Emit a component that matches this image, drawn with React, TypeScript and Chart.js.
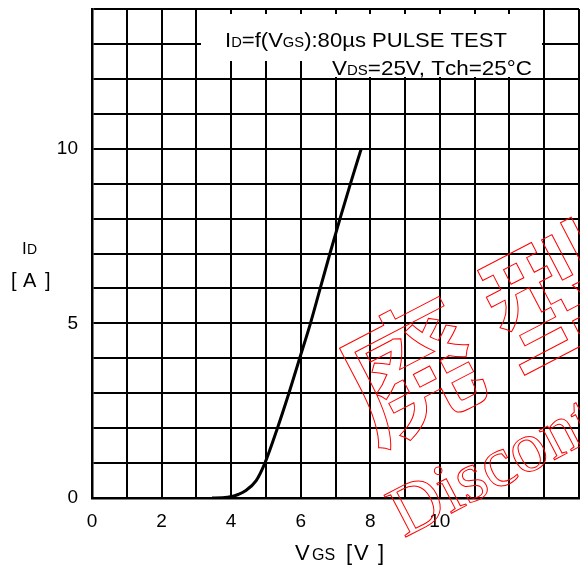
import { useEffect, useRef } from 'react';
import { Chart, registerables } from 'chart.js';

Chart.register(...registerables);

// V_GS [V]
const vgs = [3.45, 3.75, 4.05, 4.2, 4.4, 4.72, 4.97, 5.33, 5.66, 5.97, 6.28, 6.56, 6.84, 7.13, 7.43, 7.74];
// I_D [A]
const idA = [0, 0.005, 0.05, 0.1, 0.2, 0.5, 1.0, 2.0, 3.0, 4.0, 5.0, 6.0, 7.0, 8.0, 9.0, 10.0];

const xTickLabels = ['0', '2', '4', '6', '8', '10'];
const yTickLabels = ['0', '5', '10'];

const annotationLine1 = [
  { t: 'I', s: 21 },
  { t: 'D', s: 14 },
  { t: '=f(V', s: 21 },
  { t: 'GS', s: 14 },
  { t: '):80µs PULSE TEST', s: 21 },
];
const annotationLine2 = [
  { t: 'V', s: 21 },
  { t: 'DS', s: 14 },
  { t: '=25V, T', s: 21 },
  { t: 'ch', s: 21 },
  { t: '=25°C', s: 21 },
];

const watermarkChars = ['廃', '型'];
const watermarkWord = 'Discontinued';

const FONT = '"Liberation Sans", Arial, sans-serif';

type Part = { t: string; s: number };

function drawSeq(ctx: CanvasRenderingContext2D, parts: Part[], x: number, y: number, targetWidth?: number) {
  let total = 0;
  const widths = parts.map((p) => {
    ctx.font = `${p.s}px ${FONT}`;
    const w = ctx.measureText(p.t).width;
    total += w;
    return w;
  });
  const sx = targetWidth ? targetWidth / total : 1;
  ctx.save();
  ctx.translate(x, y);
  ctx.scale(sx, 1);
  let cx = 0;
  parts.forEach((p, i) => {
    ctx.font = `${p.s}px ${FONT}`;
    ctx.fillText(p.t, cx, 0);
    cx += widths[i];
  });
  ctx.restore();
}

const overlayPlugin = {
  id: 'overlay',
  afterDraw(chart: any) {
    const ctx: CanvasRenderingContext2D = chart.ctx;
    ctx.save();
    // annotation knock-out
    ctx.fillStyle = '#fff';
    ctx.fillRect(201, 14, 341, 47);
    ctx.fillRect(318, 59, 224, 18);
    ctx.fillStyle = '#000';
    ctx.textBaseline = 'alphabetic';
    ctx.textAlign = 'left';
    drawSeq(ctx, annotationLine1, 225, 47, 282);
    drawSeq(ctx, annotationLine2, 332, 75, 200);

    // axis titles
    ctx.font = `17px ${FONT}`;
    ctx.fillText('I', 22, 254);
    ctx.font = `14px ${FONT}`;
    ctx.fillText('D', 27, 254);
    ctx.font = `20px ${FONT}`;
    ctx.fillText('[', 11, 287);
    ctx.fillText('A', 23, 287);
    ctx.fillText(']', 45, 287);

    ctx.font = `22px ${FONT}`;
    ctx.fillText('V', 295, 560);
    ctx.font = `16px ${FONT}`;
    ctx.fillText('GS', 312, 560);
    ctx.font = `22px ${FONT}`;
    ctx.fillText('[', 346, 560);
    ctx.fillText('V', 354, 560);
    ctx.fillText(']', 378, 560);

    // watermark
    const ang = (-27.5 * Math.PI) / 180;
    ctx.strokeStyle = '#ff0000';
    ctx.lineWidth = 1;
    ctx.textAlign = 'center';
    ctx.textBaseline = 'middle';
    ctx.font = `500 134px "Noto Sans CJK JP"`;
    const c0x = 410;
    const c0y = 370;
    watermarkChars.forEach((ch, i) => {
      const d = 160 * i;
      ctx.save();
      ctx.translate(c0x + d * Math.cos(ang), c0y + d * Math.sin(ang));
      ctx.rotate(ang);
      ctx.strokeText(ch, 0, 0);
      ctx.restore();
    });
    ctx.save();
    ctx.translate(404, 538);
    ctx.rotate(ang);
    ctx.textAlign = 'left';
    ctx.textBaseline = 'alphabetic';
    ctx.font = `72px "Liberation Serif", serif`;
    ctx.strokeText(watermarkWord, 0, 0);
    ctx.restore();
    ctx.restore();
  },
};

export default function App() {
  const ref = useRef<HTMLCanvasElement>(null);
  useEffect(() => {
    if (!ref.current) return;
    const chart = new Chart(ref.current, {
      type: 'line',
      data: {
        datasets: [
          {
            data: vgs.map((x, i) => ({ x, y: idA[i] })),
            borderColor: '#000',
            borderWidth: 3,
            pointRadius: 0,
            cubicInterpolationMode: 'monotone',
            fill: false,
          },
        ],
      },
      options: {
        responsive: false,
        animation: false,
        devicePixelRatio: 1,
        layout: { padding: { top: 9, right: 1, left: 0, bottom: 0 } },
        plugins: { legend: { display: false }, tooltip: { enabled: false } },
        scales: {
          x: {
            type: 'linear',
            min: 0,
            max: 14,
            afterFit: (s: any) => {
              s.height = 72;
              s.paddingLeft = 0;
              s.paddingRight = 0;
            },
            ticks: {
              stepSize: 1,
              autoSkip: false,
              maxRotation: 0,
              padding: 12,
              color: '#000',
              font: { family: FONT, size: 19 },
              callback: (v: any) => (xTickLabels.includes(String(v)) ? String(v) : ''),
            },
            grid: { color: '#000', lineWidth: 2, drawTicks: false },
            border: { color: '#000', width: 2.5 },
          },
          y: {
            type: 'linear',
            min: 0,
            max: 14,
            afterFit: (s: any) => {
              s.width = 92;
              s.paddingTop = 0;
              s.paddingBottom = 0;
            },
            ticks: {
              stepSize: 1,
              autoSkip: false,
              padding: 14,
              color: '#000',
              font: { family: FONT, size: 19 },
              callback: (v: any) => (yTickLabels.includes(String(v)) ? String(v) : ''),
            },
            grid: { color: '#000', lineWidth: 2, drawTicks: false },
            border: { color: '#000', width: 2.5 },
          },
        },
      },
      plugins: [overlayPlugin],
    } as any);
    return () => chart.destroy();
  }, []);
  return (
    <div style={{ position: 'absolute', left: 0, top: 0, width: 580, height: 570, background: '#fff' }}>
      <canvas ref={ref} width={580} height={570} style={{ display: 'block' }} />
    </div>
  );
}
